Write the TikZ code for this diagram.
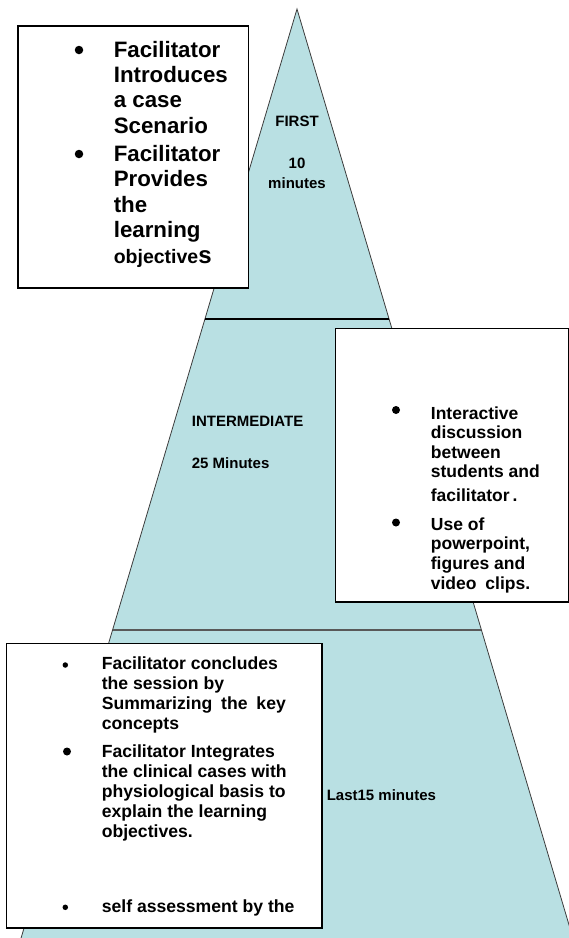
\documentclass[tikz,border=0pt]{standalone}
\usepackage{fontspec}
\setmainfont{Liberation Sans}
\definecolor{pyr}{RGB}{185,224,227}
\definecolor{edge}{RGB}{60,60,60}
\newcommand\itemlines[1]{\begin{tabular}[t]{@{}l@{}}#1\end{tabular}}
\tikzset{
  box/.style={draw=black, line width=1.5pt, fill=white},
  txt/.style={anchor=base west, inner sep=0pt, font=\bfseries},
  lbl/.style={anchor=base, inner sep=0pt, font=\bfseries\fontsize{15}{18}\selectfont},
  bdot/.style={circle, fill=black, inner sep=0pt, minimum size=#1},
}
\begin{document}
\begin{tikzpicture}[x=1pt,y=-1pt]
\useasboundingbox (0,0) rectangle (569,938);
% pyramid
\begin{scope}
  \clip (0,0) rectangle (569,938);
  \filldraw[fill=pyr, draw=edge, line width=0.8pt] (297,9) -- (-30,1110) -- (624,1110) -- cycle;
\end{scope}
\draw[black, line width=1.3pt] (204.9,319) -- (389.1,319);
\draw[black!65, line width=2pt] (112.6,630) -- (481.4,630);
% labels inside pyramid
\node[lbl] (first) at (297,126.7) {FIRST};
\node[lbl] (ten) at (297,168.3) {10};
\node[lbl] (mins) at (297,188.3) {minutes};
\node[lbl, anchor=base west] (inter) at (191.7,426.7) {INTERMEDIATE};
\node[lbl, anchor=base west] (twentyfive) at (191.7,468.3) {25 Minutes};
\node[lbl, anchor=base west] (last) at (326.6,800) {Last15 minutes};
% top box
\draw[box] (18,26) rectangle (248.5,288);
\node[bdot=8.5pt] (ta) at (79,50) {};
\node[bdot=8.5pt] (tb) at (79,154) {};
\node[txt, font=\bfseries\fontsize{22.3}{25.3}\selectfont] (t1) at (113.6,57.3)
  {\itemlines{Facilitator\\Introduces\\a case\\Scenario}};
\node[txt, font=\bfseries\fontsize{22.3}{25.5}\selectfont] (t2) at (113.6,161)
  {\itemlines{Facilitator\\Provides\\the\\learning\\{\fontsize{19.5}{25.5}\selectfont objective}{\fontsize{24}{25.5}\selectfont s}}};
% middle box
\draw[box] (335.5,328.5) rectangle (568.5,602);
\node[bdot=8pt] (ma) at (396,410) {};
\node[bdot=8pt] (mb) at (396,522.5) {};
\node[txt, font=\bfseries\fontsize{17.5}{19.5}\selectfont] (m1) at (430.7,419.3)
  {\itemlines{Interactive\\discussion\\between\\students and\\[3.9pt]facilitator\,.}};
\node[txt, font=\bfseries\fontsize{17.5}{19.7}\selectfont] (m2) at (430.7,530)
  {\itemlines{Use of\\powerpoint,\\figures and\\video\hspace{4pt} clips.}};
% bottom box
\draw[box] (6.5,643.5) rectangle (322,928);
\node[bdot=5.5pt] (ba) at (65.3,665) {};
\node[bdot=8pt] (bb) at (67,751.5) {};
\node[bdot=5.5pt] (bc) at (65.3,907.3) {};
\node[txt, font=\bfseries\fontsize{17.6}{20}\selectfont] (b1) at (101.6,669.8)
  {\itemlines{Facilitator concludes\\the session by\\Summarizing\hspace{4pt} the\hspace{4pt} key\\concepts}};
\node[txt, font=\bfseries\fontsize{17.6}{20}\selectfont] (b2) at (101.6,757)
  {\itemlines{Facilitator Integrates\\the clinical cases with\\physiological basis to\\explain the learning\\objectives.}};
\node[txt, font=\bfseries\fontsize{17.6}{20}\selectfont] (b3) at (101.6,912.3)
  {self assessment by the};
\end{tikzpicture}
\end{document}
